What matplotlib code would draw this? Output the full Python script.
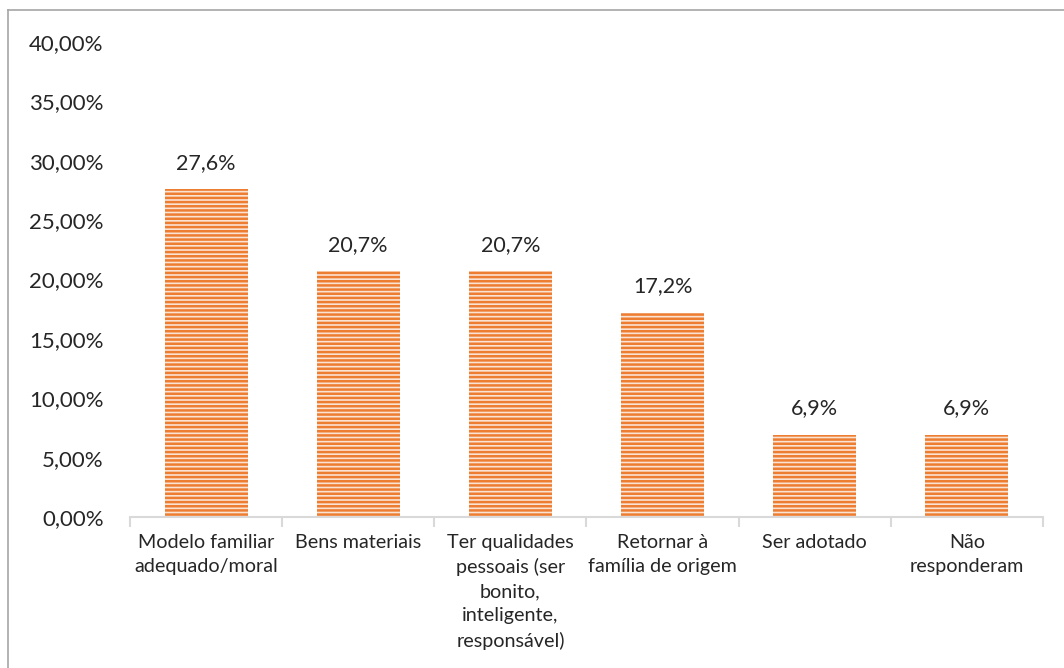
import numpy as np
import matplotlib
matplotlib.use("Agg")
from matplotlib import pyplot as plt
from matplotlib.lines import Line2D
from matplotlib.ticker import FuncFormatter

categories = ["Modelo familiar\nadequado/moral", "Bens materiais",
              "Ter qualidades\npessoais (ser\nbonito,\ninteligente,\nresponsável)",
              "Retornar à\nfamília de origem", "Ser adotado", "Não\nresponderam"]
values = [27.6, 20.7, 20.7, 17.2, 6.9, 6.9]
value_labels = ["27,6%", "20,7%", "20,7%", "17,2%", "6,9%", "6,9%"]

plt.rcParams['font.family'] = ['Lato', 'DejaVu Sans']
plt.rcParams['hatch.linewidth'] = 1.8

fig = plt.figure(figsize=(10.64, 6.68), dpi=100)
ax = fig.add_axes([0.1222, 0.226, 0.858, 0.711])

x = np.arange(len(values))
ax.bar(x, values, width=0.545, facecolor='#FBE3D4', edgecolor='#ED7D31',
       linewidth=0, hatch='----')

for xi, v, lab in zip(x, values, value_labels):
    ax.text(xi, v + 1.4, lab, ha='center', va='bottom', fontsize=15.5, color='#262626')

ax.set_xlim(-0.5, len(values) - 0.5)
ax.set_ylim(0, 40)
ax.set_yticks(np.arange(0, 41, 5))
ax.yaxis.set_major_formatter(FuncFormatter(lambda v, p: f"{v:.2f}%".replace('.', ',')))
ax.set_xticks(x)
ax.set_xticklabels(categories, fontsize=14.2, color='#262626', linespacing=1.5)
ax.set_xticks(np.arange(-0.5, len(values), 1), minor=True)
ax.tick_params(axis='x', which='major', length=0, pad=12)
ax.tick_params(axis='x', which='minor', length=7, color='#D9D9D9', width=1.5)
ax.tick_params(axis='y', length=0, labelsize=16, labelcolor='#262626', pad=19)
for s in ['top', 'right', 'left']:
    ax.spines[s].set_visible(False)
ax.spines['bottom'].set_color('#D9D9D9')
ax.spines['bottom'].set_linewidth(1.5)

# chart border
fig.add_artist(Line2D([8 / 1064, 8 / 1064], [0, 1 - 10 / 668], color='#A6A6A6', lw=1.2))
fig.add_artist(Line2D([8 / 1064, 1], [1 - 10 / 668, 1 - 10 / 668], color='#A6A6A6', lw=1.2))

fig.savefig("out.png", dpi=100)
